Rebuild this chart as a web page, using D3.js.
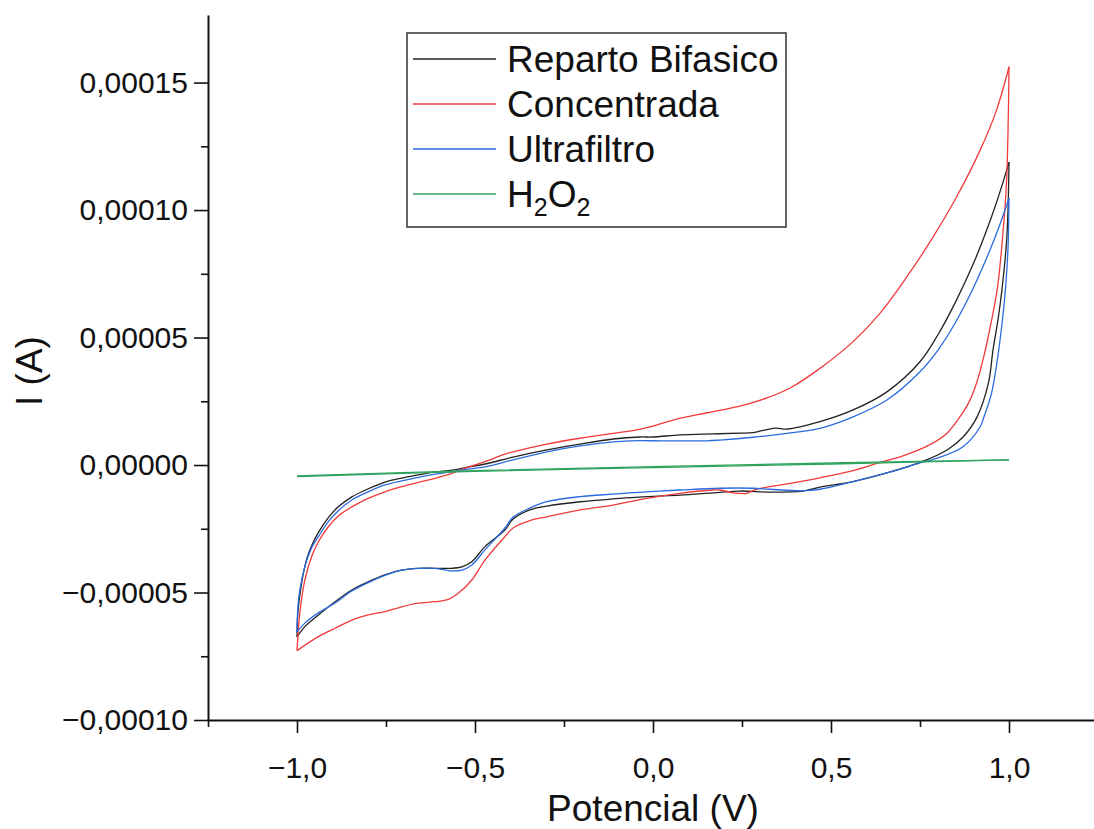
<!DOCTYPE html>
<html>
<head>
<meta charset="utf-8">
<script src="https://cdn.jsdelivr.net/npm/d3@7"></script>
<style>
  html, body { margin: 0; padding: 0; background: #fff; }
  svg { display: block; font-family: "Liberation Sans", Arial, sans-serif; }
</style>
</head>
<body>
<svg id="chart" width="1094" height="829"></svg>
<script>
// Cyclic voltammograms: [potential (V), current (A)], forward sweep then return sweep.
const repartoBifasico = [
  [-1.000,-6.75e-5],[-0.998,-5.88e-5],[-0.992,-5.10e-5],[-0.983,-4.31e-5],[-0.972,-3.65e-5],
  [-0.958,-3.14e-5],[-0.941,-2.67e-5],[-0.913,-2.08e-5],[-0.885,-1.65e-5],[-0.846,-1.25e-5],
  [-0.801,-0.94e-5],[-0.753,-0.67e-5],[-0.705,-0.51e-5],[-0.660,-0.39e-5],[-0.612,-0.27e-5],
  [-0.565,-0.20e-5],[-0.520,-0.08e-5],[-0.472,0.04e-5],[-0.393,0.31e-5],[-0.298,0.59e-5],
  [-0.205,0.82e-5],[-0.112,1.02e-5],[-0.037,1.10e-5],[0.000,1.10e-5],[0.076,1.18e-5],
  [0.169,1.22e-5],[0.244,1.25e-5],[0.281,1.27e-5],[0.343,1.45e-5],[0.376,1.41e-5],
  [0.469,1.70e-5],[0.562,2.16e-5],[0.657,2.87e-5],[0.750,4.05e-5],[0.800,5.10e-5],
  [0.850,6.40e-5],[0.900,7.90e-5],[0.950,9.70e-5],[0.980,10.95e-5],[1.000,11.88e-5],
  [0.994,8.94e-5],[0.980,6.86e-5],[0.969,5.69e-5],[0.955,4.51e-5],[0.942,3.20e-5],
  [0.910,1.88e-5],[0.871,1.10e-5],[0.826,0.59e-5],[0.750,0.10e-5],[0.657,-0.31e-5],
  [0.562,-0.65e-5],[0.469,-0.87e-5],[0.421,-1.02e-5],[0.329,-1.06e-5],[0.244,-1.02e-5],
  [0.169,-1.09e-5],[0.076,-1.18e-5],[-0.017,-1.24e-5],[-0.112,-1.33e-5],[-0.205,-1.44e-5],
  [-0.298,-1.61e-5],[-0.346,-1.76e-5],[-0.393,-2.12e-5],[-0.416,-2.55e-5],[-0.472,-3.20e-5],
  [-0.509,-3.79e-5],[-0.537,-3.99e-5],[-0.565,-4.05e-5],[-0.612,-4.05e-5],[-0.659,-4.05e-5],
  [-0.706,-4.12e-5],[-0.753,-4.31e-5],[-0.800,-4.58e-5],[-0.846,-4.90e-5],[-0.893,-5.36e-5],
  [-0.940,-5.88e-5],[-0.978,-6.34e-5],[-1.000,-6.75e-5]
];

const concentrada = [
  [-1.000,-7.28e-5],[-0.992,-5.80e-5],[-0.978,-4.51e-5],[-0.959,-3.60e-5],[-0.940,-3.01e-5],
  [-0.912,-2.42e-5],[-0.884,-2.00e-5],[-0.846,-1.64e-5],[-0.800,-1.31e-5],[-0.753,-1.05e-5],
  [-0.706,-0.85e-5],[-0.659,-0.68e-5],[-0.612,-0.52e-5],[-0.565,-0.33e-5],[-0.537,-0.17e-5],
  [-0.509,-0.04e-5],[-0.472,0.13e-5],[-0.416,0.43e-5],[-0.393,0.52e-5],[-0.298,0.82e-5],
  [-0.205,1.05e-5],[-0.112,1.24e-5],[-0.037,1.40e-5],[0.000,1.53e-5],[0.056,1.76e-5],
  [0.152,2.05e-5],[0.244,2.31e-5],[0.320,2.63e-5],[0.385,3.02e-5],[0.469,3.79e-5],
  [0.562,4.84e-5],[0.638,5.96e-5],[0.713,7.38e-5],[0.787,8.95e-5],[0.853,10.52e-5],
  [0.919,12.35e-5],[0.965,13.92e-5],[1.000,15.62e-5],
  [0.998,13.66e-5],[0.993,11.06e-5],[0.983,9.10e-5],[0.968,7.00e-5],[0.950,5.60e-5],
  [0.930,4.30e-5],[0.909,3.22e-5],[0.885,2.40e-5],[0.862,1.89e-5],[0.826,1.25e-5],
  [0.778,0.80e-5],[0.702,0.36e-5],[0.638,0.10e-5],[0.562,-0.22e-5],[0.469,-0.50e-5],
  [0.376,-0.74e-5],[0.309,-0.90e-5],[0.281,-1.00e-5],[0.263,-1.11e-5],[0.244,-1.11e-5],
  [0.225,-1.09e-5],[0.188,-0.98e-5],[0.169,-0.98e-5],[0.076,-1.11e-5],[-0.017,-1.31e-5],
  [-0.112,-1.57e-5],[-0.205,-1.76e-5],[-0.298,-2.03e-5],[-0.346,-2.18e-5],[-0.393,-2.47e-5],
  [-0.416,-2.81e-5],[-0.472,-3.73e-5],[-0.509,-4.51e-5],[-0.547,-5.03e-5],[-0.575,-5.27e-5],
  [-0.612,-5.36e-5],[-0.659,-5.42e-5],[-0.706,-5.56e-5],[-0.753,-5.75e-5],[-0.800,-5.88e-5],
  [-0.846,-6.08e-5],[-0.893,-6.40e-5],[-0.940,-6.73e-5],[-1.000,-7.28e-5]
];

const ultrafiltro = [
  [-1.000,-6.55e-5],[-0.998,-5.69e-5],[-0.992,-4.90e-5],[-0.978,-3.99e-5],[-0.959,-3.25e-5],
  [-0.940,-2.81e-5],[-0.912,-2.22e-5],[-0.884,-1.79e-5],[-0.846,-1.37e-5],[-0.800,-1.05e-5],
  [-0.753,-0.78e-5],[-0.706,-0.62e-5],[-0.659,-0.48e-5],[-0.612,-0.36e-5],[-0.565,-0.26e-5],
  [-0.519,-0.16e-5],[-0.472,-0.07e-5],[-0.393,0.20e-5],[-0.298,0.52e-5],[-0.205,0.75e-5],
  [-0.112,0.91e-5],[-0.065,0.95e-5],[0.028,0.95e-5],[0.152,0.95e-5],[0.188,0.98e-5],
  [0.281,1.09e-5],[0.376,1.24e-5],[0.469,1.44e-5],[0.562,1.89e-5],[0.657,2.55e-5],
  [0.750,3.66e-5],[0.800,4.50e-5],[0.850,5.60e-5],[0.900,6.95e-5],[0.950,8.55e-5],
  [0.980,9.65e-5],[1.000,10.47e-5],
  [0.997,8.43e-5],[0.990,6.90e-5],[0.980,5.50e-5],[0.968,4.20e-5],[0.951,2.82e-5],
  [0.930,1.90e-5],[0.919,1.50e-5],[0.871,0.72e-5],[0.798,0.27e-5],[0.750,0.08e-5],
  [0.657,-0.31e-5],[0.562,-0.65e-5],[0.469,-0.95e-5],[0.421,-1.01e-5],[0.329,-0.95e-5],
  [0.281,-0.91e-5],[0.188,-0.91e-5],[0.076,-0.98e-5],[-0.017,-1.05e-5],[-0.112,-1.14e-5],
  [-0.205,-1.24e-5],[-0.298,-1.44e-5],[-0.346,-1.69e-5],[-0.393,-2.04e-5],[-0.416,-2.47e-5],
  [-0.472,-3.33e-5],[-0.509,-3.92e-5],[-0.537,-4.12e-5],[-0.565,-4.15e-5],[-0.612,-4.05e-5],
  [-0.659,-4.05e-5],[-0.706,-4.12e-5],[-0.753,-4.33e-5],[-0.800,-4.61e-5],[-0.846,-4.94e-5],
  [-0.893,-5.41e-5],[-0.940,-5.80e-5],[-0.978,-6.20e-5],[-1.000,-6.55e-5]
];

const peroxido = [
  [-1.000,-0.43e-5],[-0.500,-0.22e-5],[0.000,-0.06e-5],[0.500,0.08e-5],[1.000,0.20e-5],
  [0.500,0.04e-5],[0.000,-0.10e-5],[-0.500,-0.25e-5],[-1.000,-0.45e-5]
];

const seriesNames = ["Reparto Bifasico", "Concentrada", "Ultrafiltro", "H2O2"];
const seriesData = [repartoBifasico, concentrada, ultrafiltro, peroxido];
const seriesColors = ["#222222", "#f03a3a", "#2b6be0", "#2fa35e"];

const xMajorTicks = [-1.0, -0.5, 0.0, 0.5, 1.0];
const xMinorTicks = [-1.25, -0.75, -0.25, 0.25, 0.75, 1.25];
const yMajorTicks = [-0.00010, -0.00005, 0.00000, 0.00005, 0.00010, 0.00015];
const yMinorTicks = [-0.000075, -0.000025, 0.000025, 0.000075, 0.000125];

const svg = d3.select("#chart");

const x = d3.scaleLinear().domain([-1.25, 1.25]).range([208, 1098]);
const y = d3.scaleLinear().domain([-0.0001, 0.0001765]).range([720, 15]);

// Decimal comma and a true minus sign
const fmtX = v => d3.format(".1f")(v).replace(".", ",").replace("-", "\u2212");
const fmtY = v => d3.format(".5f")(v).replace(".", ",").replace("-", "\u2212");

const axisColor = "#111";

// Minor ticks
svg.append("g")
  .attr("transform", "translate(0,720)")
  .call(d3.axisBottom(x).tickValues(xMinorTicks).tickSize(7).tickFormat(""))
  .call(g => g.select(".domain").remove());
svg.append("g")
  .attr("transform", "translate(208,0)")
  .call(d3.axisLeft(y).tickValues(yMinorTicks).tickSize(7).tickFormat(""))
  .call(g => g.select(".domain").remove());

// Major ticks with labels
const xAxis = svg.append("g")
  .attr("transform", "translate(0,720)")
  .call(d3.axisBottom(x).tickValues(xMajorTicks).tickSize(13).tickSizeOuter(0).tickPadding(24).tickFormat(fmtX));
const yAxis = svg.append("g")
  .attr("transform", "translate(208,0)")
  .call(d3.axisLeft(y).tickValues(yMajorTicks).tickSize(14).tickSizeOuter(0).tickPadding(6).tickFormat(fmtY));

svg.selectAll(".tick line").attr("stroke", axisColor).attr("stroke-width", 1.6);
svg.selectAll(".domain").attr("stroke", axisColor).attr("stroke-width", 2);
[xAxis, yAxis].forEach(a => a.selectAll("text")
  .attr("font-size", 30).attr("fill", "#111")
  .attr("font-family", "Liberation Sans, Arial, sans-serif"));

// Axis titles
svg.append("text")
  .attr("x", 653).attr("y", 821)
  .attr("text-anchor", "middle")
  .attr("font-size", 37).attr("fill", "#111")
  .text("Potencial (V)");
svg.append("text")
  .attr("transform", "translate(42,371) rotate(-90)")
  .attr("text-anchor", "middle")
  .attr("font-size", 37).attr("fill", "#111")
  .text("I (A)");

// Curves: each voltammogram split into its forward and return sweeps at the vertex potential
const line = d3.line()
  .x(d => x(d[0])).y(d => y(d[1]))
  .curve(d3.curveCatmullRom.alpha(0.5));
const sweeps = [];
seriesData.forEach((data, i) => {
  const turn = d3.maxIndex(data, d => d[0]);
  sweeps.push({ color: seriesColors[i], points: data.slice(0, turn + 1) });
  sweeps.push({ color: seriesColors[i], points: data.slice(turn) });
});
svg.append("g").selectAll("path")
  .data(sweeps)
  .join("path")
  .attr("d", d => line(d.points))
  .attr("fill", "none")
  .attr("stroke", d => d.color)
  .attr("stroke-width", 1.3)
  .attr("stroke-linejoin", "round");

// Legend
const legend = svg.append("g");
legend.append("rect")
  .attr("x", 407).attr("y", 33).attr("width", 379).attr("height", 194)
  .attr("fill", "#fff").attr("stroke", "#333").attr("stroke-width", 1.5);
const items = legend.selectAll("g.item")
  .data(seriesNames)
  .join("g")
  .attr("class", "item")
  .attr("transform", (d, i) => `translate(0,${59 + i * 45})`);
items.append("line")
  .attr("x1", 413).attr("x2", 496)
  .attr("stroke", (d, i) => seriesColors[i])
  .attr("stroke-width", 1.3);
items.each(function(d) {
  const t = d3.select(this).append("text")
    .attr("x", 507).attr("y", 13)
    .attr("font-size", 37).attr("fill", "#111");
  if (d === "H2O2") {
    t.append("tspan").text("H");
    t.append("tspan").attr("font-size", 25).attr("dy", 9).text("2");
    t.append("tspan").attr("dy", -9).text("O");
    t.append("tspan").attr("font-size", 25).attr("dy", 9).text("2");
  } else {
    t.text(d);
  }
});
</script>
</body>
</html>
